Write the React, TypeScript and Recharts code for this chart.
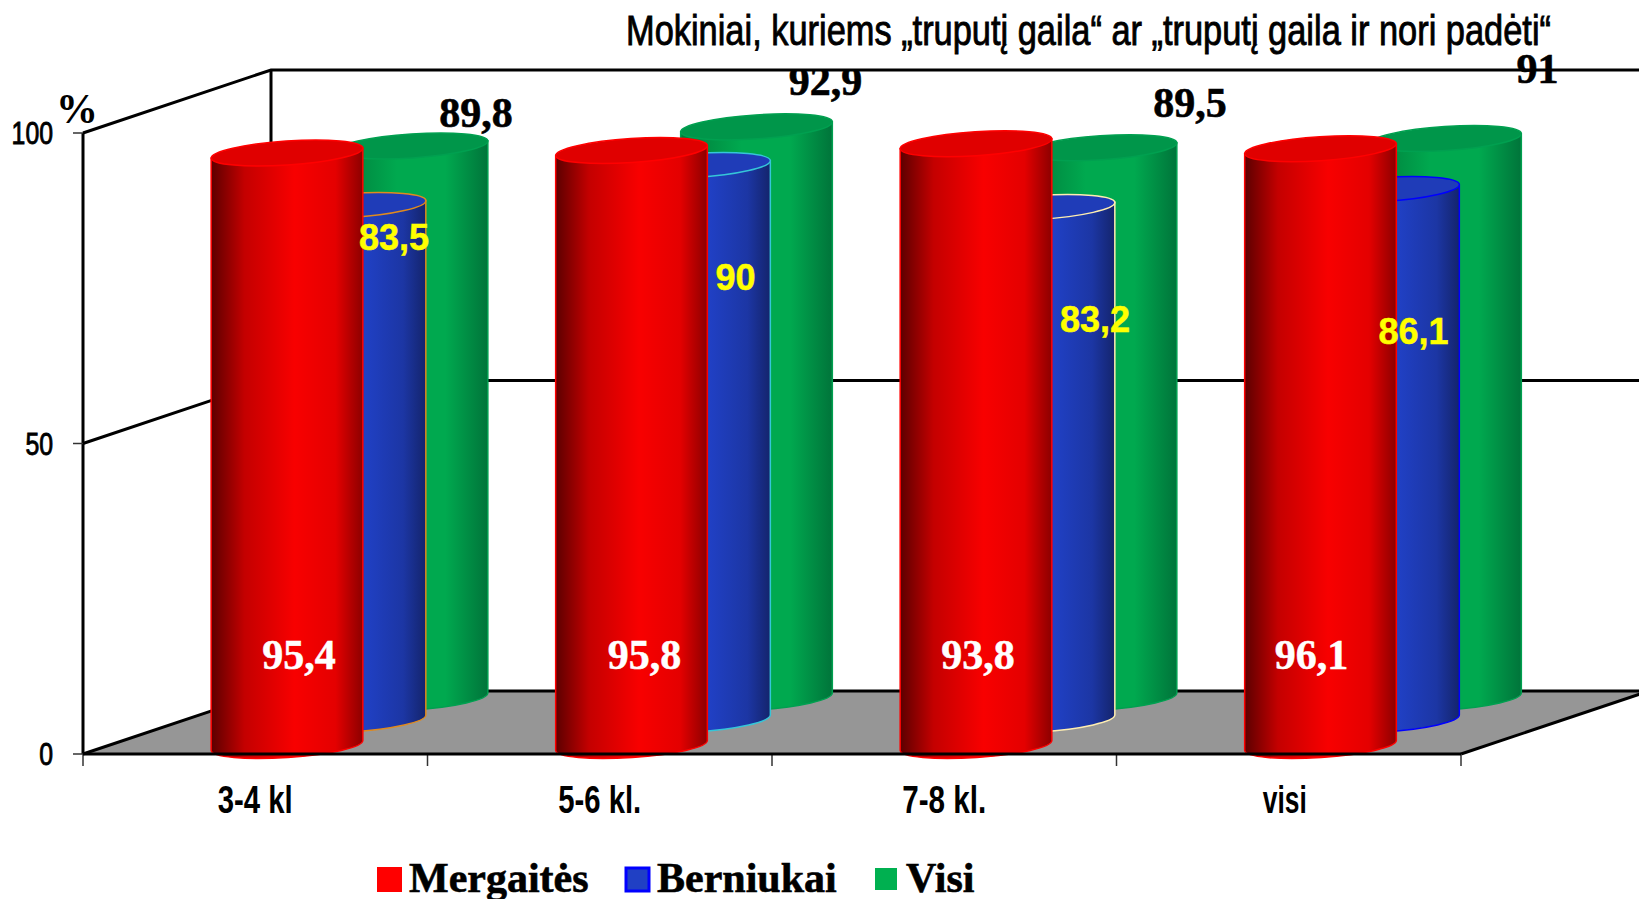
import { Bar, BarChart, LabelList, XAxis, YAxis } from "recharts";

const categories = ["3-4 kl", "5-6 kl.", "7-8 kl.", "visi"];
// the third red cylinder is drawn taller than its printed label says
const mergaites = [95.4, 95.8, 96.9, 96.1];
const mergaitesLabels = ["95,4", "95,8", "93,8", "96,1"];
const berniukai = [83.5, 90, 83.2, 86.1];
const visi = [89.8, 92.9, 89.5, 91];

const chartData = categories.map((name, i) => ({
  name,
  mergaites: mergaites[i],
  berniukai: berniukai[i],
  visi: visi[i],
}));

const W = 1639;
const H = 899;
const LEFT = 83;
const RIGHT = 1461;
const TOP = 133;
const BOTTOM = 754;
const DEPTH_X = 188;
const DEPTH_Y = 63;
const BAR_W = 152;
const BAND = (RIGHT - LEFT) / categories.length;
const yAt = (v: number) => BOTTOM - ((BOTTOM - TOP) * v) / 100;

// hand-moved data labels in the original: offsets from the bar top / centre
const redLabelDx = [44, 45, 34, 23];
const blueLabelDx = [139, 136, 151, 125];
const blueLabelDy = [14.5, 95, 95, 125];
const greenLabelDx = [221, 226, 246, 249];
const greenLabelDy = [-69, -82, -81, -106];
const blueEdges = ["#e08a1e", "#35c6d8", "#ffeeb0", "#0000ff"];

const xTickWidths: Record<string, number> = {
  "3-4 kl": 75,
  "5-6 kl.": 83,
  "7-8 kl.": 84,
  visi: 44,
};
const xTickShift: Record<string, number> = { visi: -4 };

const comma = (v: number) => String(v).replace(".", ",");

const Cylinder = (props: any) => {
  const { x, y, width, height, index, dx, dy, depth = 1, fill, top, edge } = props;
  const edgeColor = Array.isArray(edge) ? edge[index] : edge;
  const cx = x + width / 2 + dx;
  const r = width / 2;
  const ry = 12;
  const tilt = -3.8;
  const ex = r * Math.cos((tilt * Math.PI) / 180);
  const ey = r * Math.sin((tilt * Math.PI) / 180);
  const baseY = y + height + dy;
  // rows further back are a little shorter (perspective)
  const topY = baseY - height * depth;
  const body = `M${cx - ex} ${topY - ey} L${cx + ex} ${topY + ey} L${cx + ex} ${baseY + ey} A${r} ${ry} ${tilt} 0 1 ${cx - ex} ${baseY - ey} Z`;
  return (
    <g>
      <path d={body} fill={fill} stroke={edgeColor} strokeWidth={1.5} />
      <ellipse
        cx={cx}
        cy={topY}
        rx={r}
        ry={ry}
        fill={top}
        stroke={edgeColor}
        strokeWidth={1.5}
        transform={`rotate(${tilt} ${cx} ${topY})`}
      />
    </g>
  );
};

const Frame = () => {
  const mid = yAt(50);
  const backFloor = BOTTOM - DEPTH_Y;
  return (
    <g>
      <defs>
        <linearGradient id="redBody" x1="0" x2="1" y1="0" y2="0">
          <stop offset="0" stopColor="#5c0000" />
          <stop offset="0.22" stopColor="#c40000" />
          <stop offset="0.55" stopColor="#f80000" />
          <stop offset="0.82" stopColor="#e40000" />
          <stop offset="1" stopColor="#8c0000" />
        </linearGradient>
        <linearGradient id="blueBody" x1="0" x2="1" y1="0" y2="0">
          <stop offset="0" stopColor="#101f60" />
          <stop offset="0.6" stopColor="#2040c4" />
          <stop offset="0.85" stopColor="#1c36a4" />
          <stop offset="1" stopColor="#14246c" />
        </linearGradient>
        <linearGradient id="greenBody" x1="0" x2="1" y1="0" y2="0">
          <stop offset="0" stopColor="#007a3a" />
          <stop offset="0.4" stopColor="#00a94f" />
          <stop offset="0.72" stopColor="#00a94f" />
          <stop offset="1" stopColor="#00743a" />
        </linearGradient>
        <clipPath id="underTopLine">
          <rect x={0} y={71} width={W} height={H} />
        </clipPath>
      </defs>
      <polygon
        points={`${LEFT},${BOTTOM} ${LEFT + DEPTH_X},${backFloor} ${RIGHT + DEPTH_X},${backFloor} ${RIGHT},${BOTTOM}`}
        fill="#969696"
      />
      <g stroke="#000" strokeWidth={3} fill="none">
        <path d={`M${LEFT} ${TOP} L${LEFT + DEPTH_X} ${TOP - DEPTH_Y} L${W} ${TOP - DEPTH_Y}`} />
        <path d={`M${LEFT} ${mid} L${LEFT + DEPTH_X} ${mid - DEPTH_Y} L${W} ${mid - DEPTH_Y}`} />
        <path d={`M${LEFT + DEPTH_X} ${TOP - DEPTH_Y} L${LEFT + DEPTH_X} ${backFloor}`} />
        <path d={`M${LEFT} ${BOTTOM} L${LEFT + DEPTH_X} ${backFloor} L${W} ${backFloor}`} />
        <path d={`M${RIGHT} ${BOTTOM} L${RIGHT + DEPTH_X} ${backFloor}`} />
      </g>
      {[...categories, ""].map((_, i) => (
        <line
          key={i}
          x1={LEFT + BAND * i}
          x2={LEFT + BAND * i}
          y1={BOTTOM}
          y2={BOTTOM + 12}
          stroke="#333"
          strokeWidth={1.5}
        />
      ))}
    </g>
  );
};

const Texts = () => (
  <g>
    <text
      x={626}
      y={45}
      fontFamily="Liberation Sans"
      fontSize={42}
      stroke="#000"
      strokeWidth={0.9}
      textLength={925}
      lengthAdjust="spacingAndGlyphs"
    >
      Mokiniai, kuriems „truputį gaila“ ar „truputį gaila ir nori padėti“
    </text>
    <text x={56} y={123} fontFamily="Liberation Serif" fontWeight="bold" fontSize={42}>
      %
    </text>
    <rect x={377} y={867} width={25} height={25} fill="#ff0000" />
    <text x={409} y={892} fontFamily="Liberation Serif" fontWeight="bold" fontSize={42} stroke="#000" strokeWidth={0.6}>
      Mergaitės
    </text>
    <rect x={626} y={868} width={23} height={23} fill="#2040c4" stroke="#0000ff" strokeWidth={3} />
    <text x={657} y={892} fontFamily="Liberation Serif" fontWeight="bold" fontSize={42} stroke="#000" strokeWidth={0.6}>
      Berniukai
    </text>
    <rect x={875} y={868} width={22} height={22} fill="#00b050" />
    <text x={906} y={892} fontFamily="Liberation Serif" fontWeight="bold" fontSize={42} stroke="#000" strokeWidth={0.6}>
      Visi
    </text>
  </g>
);

const XTick = ({ x, payload }: any) => (
  <text
    x={x + (xTickShift[payload.value] ?? 0)}
    y={813}
    textAnchor="middle"
    fontFamily="Liberation Sans"
    fontWeight="bold"
    fontSize={38}
    textLength={xTickWidths[payload.value]}
    lengthAdjust="spacingAndGlyphs"
  >
    {payload.value}
  </text>
);

const YTick = ({ y, payload }: any) => (
  <text
    x={53}
    y={y + 11}
    textAnchor="end"
    fontFamily="Liberation Sans"
    fontSize={31}
    stroke="#000"
    strokeWidth={0.9}
    textLength={String(payload.value).length * 13.8}
    lengthAdjust="spacingAndGlyphs"
  >
    {payload.value}
  </text>
);

const RedLabel = ({ x, width, index }: any) => (
  <text
    x={x + width / 2 + redLabelDx[index]}
    y={669}
    textAnchor="middle"
    fill="#fff"
    stroke="#fff"
    strokeWidth={0.5}
    fontFamily="Liberation Serif"
    fontWeight="bold"
    fontSize={42}
  >
    {mergaitesLabels[index]}
  </text>
);

const BlueLabel = ({ x, y, width, index, value }: any) => (
  <text
    x={x + width / 2 + blueLabelDx[index]}
    y={y + blueLabelDy[index]}
    textAnchor="middle"
    fill="#ffff00"
    stroke="#ffff00"
    strokeWidth={0.5}
    fontFamily="Liberation Sans"
    fontWeight="bold"
    fontSize={36}
  >
    {comma(value)}
  </text>
);

const GreenLabel = ({ x, y, width, index, value }: any) => (
  <text
    x={x + width / 2 + greenLabelDx[index]}
    y={y + greenLabelDy[index]}
    textAnchor="middle"
    fill="#000"
    stroke="#000"
    strokeWidth={0.6}
    fontFamily="Liberation Serif"
    fontWeight="bold"
    fontSize={42}
    clipPath={index === 1 ? "url(#underTopLine)" : undefined}
  >
    {comma(value)}
  </text>
);

const App = () => (
  <div style={{ position: "absolute", left: 0, top: 0, width: W, height: H, background: "#fff" }}>
    <BarChart
      width={W}
      height={H}
      data={chartData}
      barSize={BAR_W}
      barGap={-BAR_W}
      margin={{ top: TOP, right: W - RIGHT, bottom: 0, left: 0 }}
    >
      <Frame />
      <XAxis
        dataKey="name"
        height={H - BOTTOM}
        tick={<XTick />}
        tickLine={false}
        interval={0}
        axisLine={{ stroke: "#000", strokeWidth: 3 }}
      />
      <YAxis
        width={LEFT}
        domain={[0, 100]}
        ticks={[0, 50, 100]}
        tick={<YTick />}
        tickSize={10}
        tickLine={{ stroke: "#333", strokeWidth: 1.5 }}
        axisLine={{ stroke: "#000", strokeWidth: 3 }}
      />
      <Bar
        dataKey="visi"
        isAnimationActive={false}
        shape={<Cylinder dx={157} dy={-56} depth={0.99} fill="url(#greenBody)" top="#00964a" edge="#00a050" />}
      >
        <LabelList dataKey="visi" content={<GreenLabel />} />
      </Bar>
      <Bar
        dataKey="berniukai"
        isAnimationActive={false}
        shape={<Cylinder dx={95} dy={-34} depth={0.992} fill="url(#blueBody)" top="#1f3cb8" edge={blueEdges} />}
      >
        <LabelList dataKey="berniukai" content={<BlueLabel />} />
      </Bar>
      <Bar
        dataKey="mergaites"
        isAnimationActive={false}
        shape={<Cylinder dx={32} dy={-8.5} fill="url(#redBody)" top="#e00000" edge="#ff0000" />}
      >
        <LabelList dataKey="mergaites" content={<RedLabel />} />
      </Bar>
      <Texts />
    </BarChart>
  </div>
);

export default App;
